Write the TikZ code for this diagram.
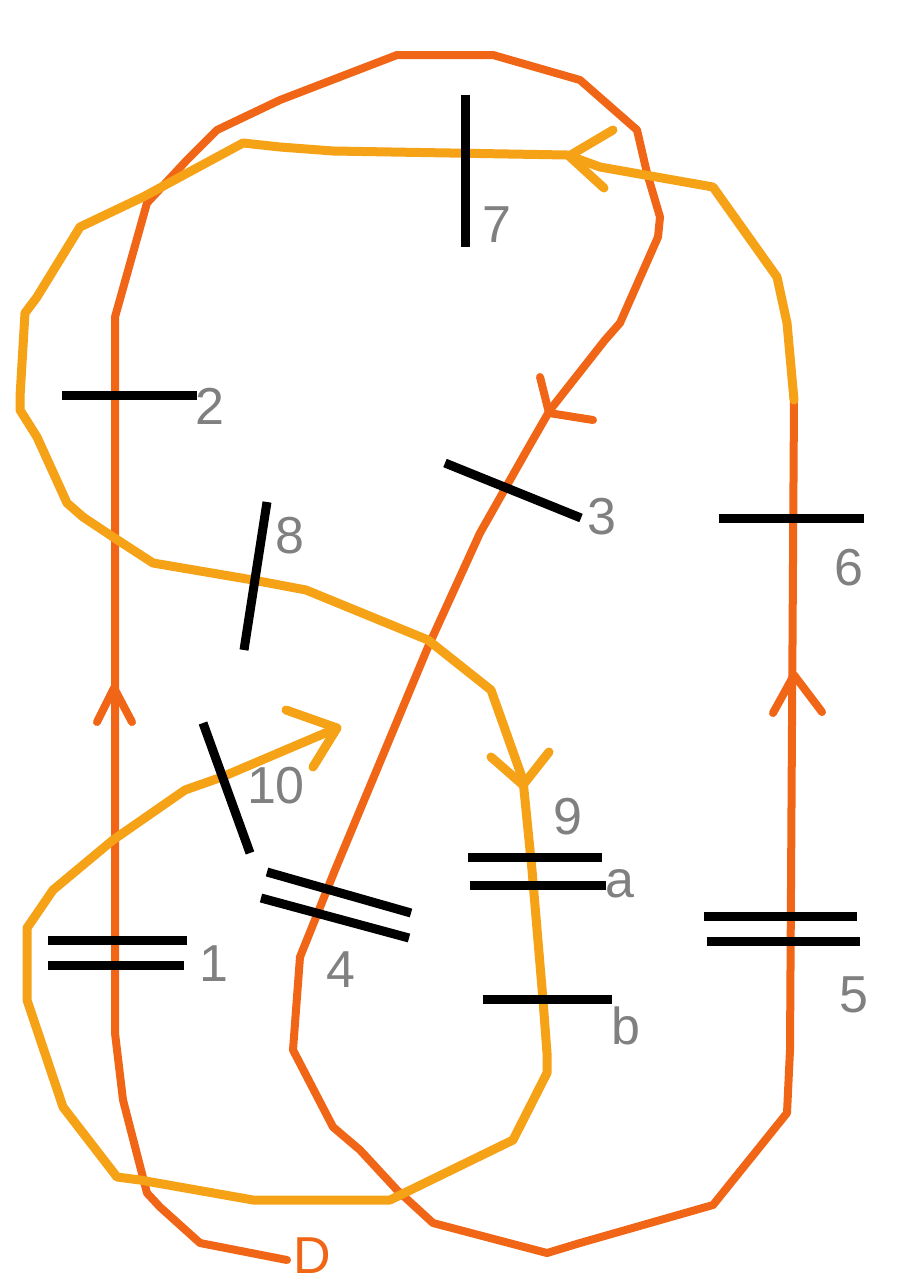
\documentclass[tikz,border=0pt]{standalone}
\usepackage{fontspec}
\setmainfont{Liberation Sans}
\definecolor{redor}{RGB}{240,102,22}
\definecolor{yelor}{RGB}{246,162,22}
\definecolor{lblgray}{RGB}{128,128,128}
\begin{document}
\begin{tikzpicture}[x=1pt,y=-1pt,
  redline/.style={draw=redor,line width=8pt,line join=round,line cap=round},
  yelline/.style={draw=yelor,line width=9pt,line join=round,line cap=round},
  crossbar/.style={draw=black,line width=9pt},
  lbl/.style={text=lblgray,font=\fontsize{52}{56}\selectfont,inner sep=0pt},
]
\useasboundingbox[fill=white] (0,0) rectangle (903,1283);
% red-orange strand
\draw[redline] (287,1260) -- (200,1243) -- (160,1207) -- (147,1193) -- (123,1100) -- (115,1033) -- (115,317) -- (147,203) -- (187,160) -- (217,130) -- (280,100) -- (397,55) -- (493,55) -- (580,80) -- (637,130) -- (647,173) -- (660,217) -- (658,237) -- (620,323) -- (605,340) -- (550,410) -- (527,450) -- (480,533) -- (428,647) -- (335,870) -- (300,957) -- (293,1050) -- (333,1127) -- (360,1150) -- (397,1190) -- (433,1223) -- (547,1253) -- (580,1243) -- (713,1205) -- (787,1113) -- (790,1050) -- (794,400);
% yellow-orange strand
\draw[yelline] (794,400) -- (787,323) -- (777,277) -- (713,187) -- (600,167) -- (567,155) -- (333,151) -- (280,147) -- (243,143) -- (143,197) -- (80,227) -- (37,297) -- (25,313) -- (20,397) -- (20,410) -- (37,437) -- (67,503) -- (83,517) -- (113,537) -- (153,563) -- (253,580) -- (306,590) -- (428,640) -- (491,690) -- (523,780) -- (532,870) -- (543,1000) -- (547,1053) -- (547,1073) -- (513,1140) -- (390,1200) -- (253,1200) -- (140,1180) -- (117,1177) -- (63,1107) -- (27,1000) -- (27,928) -- (53,890) -- (113,840) -- (185,790) -- (222,777) -- (337,728);
% arrowheads
\draw[redline] (97,722) -- (114,688) -- (132,722);
\draw[redline] (773,713) -- (794,675) -- (822,712);
\draw[redline] (540,377) -- (549,413) -- (593,420);
\draw[yelline] (613,130) -- (569,156) -- (604,188);
\draw[yelline] (286,710) -- (337,728) -- (313,767);
\draw[yelline] (491,757) -- (523,785) -- (549,752);
% crossing marks
\draw[crossbar] (465,95) -- (465,247);
\draw[crossbar] (62,395) -- (197,395);
\draw[crossbar] (267,502) -- (244,650);
\draw[crossbar] (445,463) -- (581,518);
\draw[crossbar] (719,518) -- (864,518);
\draw[crossbar] (203,723) -- (250,853);
\draw[crossbar] (468,857) -- (602,857);
\draw[crossbar] (470,885) -- (606,885);
\draw[crossbar] (267,872) -- (411,913);
\draw[crossbar] (261,898) -- (409,938);
\draw[crossbar] (48,940) -- (187,940);
\draw[crossbar] (48,965) -- (184,965);
\draw[crossbar] (483,999) -- (612,999);
\draw[crossbar] (704,916) -- (857,916);
\draw[crossbar] (707,941) -- (860,941);
% labels
\node[lbl] (l7) at (497,225) {7};
\node[lbl] (l2) at (210,406) {2};
\node[lbl] (l8) at (290,536) {8};
\node[lbl] (l3) at (602,517) {3};
\node[lbl] (l6) at (849,568) {6};
\node[lbl] (l10) at (276,786) {10};
\node[lbl] (l9) at (568,817) {9};
\node[lbl] (la) at (620,884) {a};
\node[lbl] (l4) at (341,970) {4};
\node[lbl] (l1) at (214,964) {1};
\node[lbl] (lb) at (626,1026) {b};
\node[lbl] (l5) at (854,995) {5};
\node[lbl,text=redor] (lD) at (312,1256) {D};
\end{tikzpicture}
\end{document}
